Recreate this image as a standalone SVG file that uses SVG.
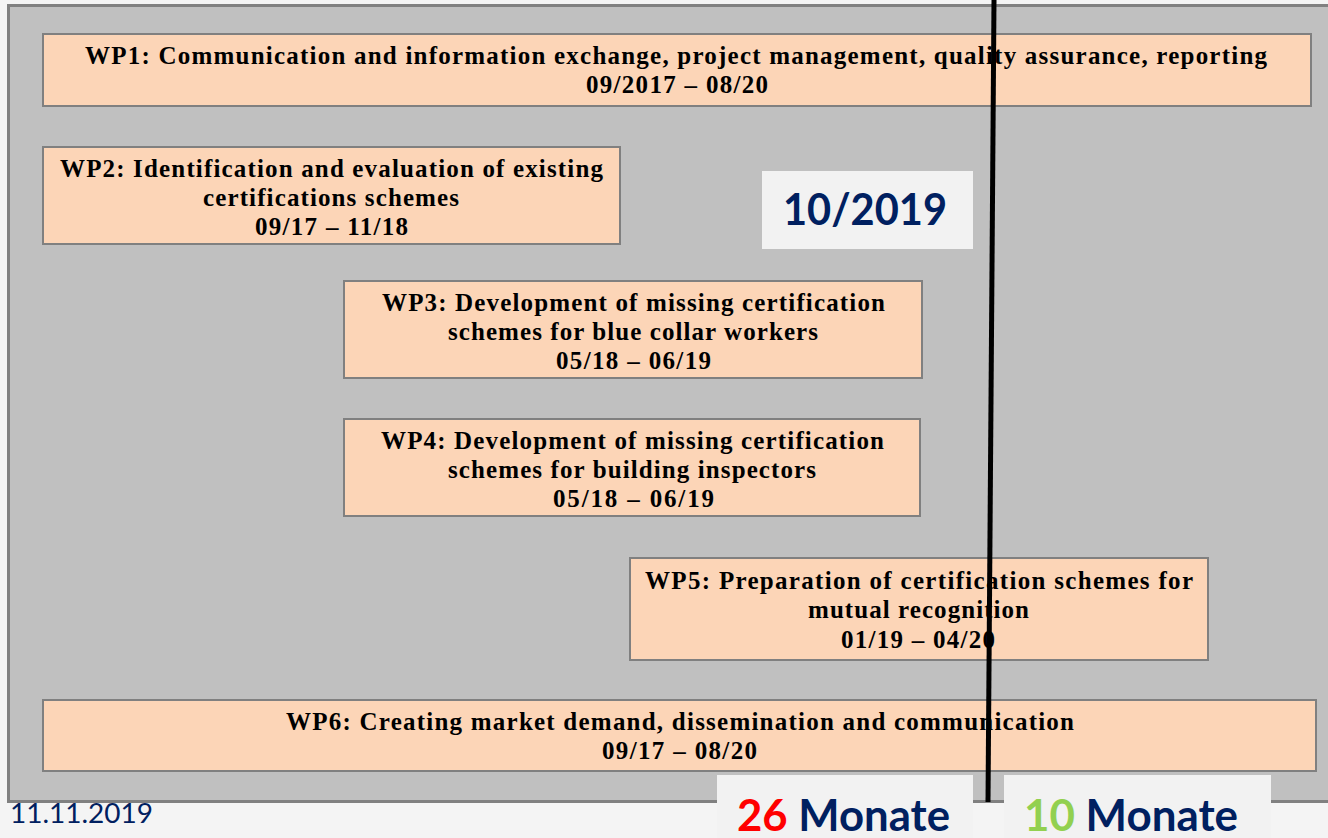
<svg xmlns="http://www.w3.org/2000/svg" width="1328" height="838" viewBox="0 0 1328 838">
<style>
.wp{fill:#fcd5b7;stroke:#808080;stroke-width:2}
.t{font-family:"Liberation Serif","Times New Roman",serif;font-weight:bold;font-size:25px;fill:#000}
.lbl{fill:#f2f2f2}
.big{font-family:Lato,"Liberation Sans",sans-serif;font-weight:bold;font-size:44px;fill:#002060}
</style>
<rect x="0" y="0" width="1328" height="838" fill="#f4f4f4"/>
<rect id="panel" x="8.5" y="5.5" width="1330" height="796" fill="#c0c0c0" stroke="#808080" stroke-width="3"/>

<g id="wp1">
<rect class="wp" x="43" y="34" width="1268" height="72"/>
<text class="t" x="85" y="64" textLength="1182" lengthAdjust="spacing">WP1: Communication and information exchange, project management, quality assurance, reporting</text>
<text class="t" x="586" y="93" textLength="182" lengthAdjust="spacing">09/2017 – 08/20</text>
</g>
<g id="wp2">
<rect class="wp" x="43" y="147" width="577" height="97"/>
<text class="t" x="60" y="177" textLength="543" lengthAdjust="spacing">WP2: Identification and evaluation of existing</text>
<text class="t" x="203" y="206" textLength="256" lengthAdjust="spacing">certifications schemes</text>
<text class="t" x="255" y="235" textLength="153" lengthAdjust="spacing">09/17 – 11/18</text>
</g>
<g id="wp3">
<rect class="wp" x="344" y="281" width="578" height="97"/>
<text class="t" x="382" y="311" textLength="503" lengthAdjust="spacing">WP3: Development of missing certification</text>
<text class="t" x="448" y="340" textLength="370" lengthAdjust="spacing">schemes for blue collar workers</text>
<text class="t" x="556" y="369" textLength="155" lengthAdjust="spacing">05/18 – 06/19</text>
</g>
<g id="wp4">
<rect class="wp" x="344" y="419" width="576" height="97"/>
<text class="t" x="381" y="449" textLength="503" lengthAdjust="spacing">WP4: Development of missing certification</text>
<text class="t" x="448" y="478" textLength="368" lengthAdjust="spacing">schemes for building inspectors</text>
<text class="t" x="553" y="507" textLength="161" lengthAdjust="spacing">05/18 –  06/19</text>
</g>
<g id="wp5">
<rect class="wp" x="630" y="558" width="578" height="102"/>
<text class="t" x="645" y="589" textLength="548" lengthAdjust="spacing">WP5: Preparation  of  certification schemes for</text>
<text class="t" x="808" y="618" textLength="221" lengthAdjust="spacing">mutual recognition</text>
<text class="t" x="841" y="648" textLength="154" lengthAdjust="spacing">01/19 – 04/20</text>
</g>
<g id="wp6">
<rect class="wp" x="43" y="700" width="1273" height="71"/>
<text class="t" x="286" y="730" textLength="788" lengthAdjust="spacing">WP6: Creating market demand, dissemination and communication</text>
<text class="t" x="602" y="759" textLength="155" lengthAdjust="spacing">09/17 – 08/20</text>
</g>

<g id="date-label">
<rect class="lbl" x="762" y="171" width="211" height="78"/>
<text class="big" x="783" y="225" textLength="164" lengthAdjust="spacingAndGlyphs">10/2019</text>
</g>

<g id="connectors">
<line x1="994" y1="0" x2="988" y2="802" stroke="#000" stroke-width="5"/>
</g>

<g id="months-26">
<rect class="lbl" x="717" y="775" width="256" height="63"/>
<text class="big" x="737" y="831" textLength="213" lengthAdjust="spacingAndGlyphs"><tspan fill="#ff0000">26</tspan> Monate</text>
</g>
<g id="months-10">
<rect class="lbl" x="1004" y="775" width="267" height="63"/>
<text class="big" x="1024" y="831" textLength="214" lengthAdjust="spacingAndGlyphs"><tspan fill="#92d050">10</tspan> Monate</text>
</g>

<g id="footer-date">
<text x="10" y="823" textLength="143" lengthAdjust="spacingAndGlyphs" style="font-family:Lato,'Liberation Sans',sans-serif;font-size:27px;fill:#002060">11.11.2019</text>
</g>
</svg>
